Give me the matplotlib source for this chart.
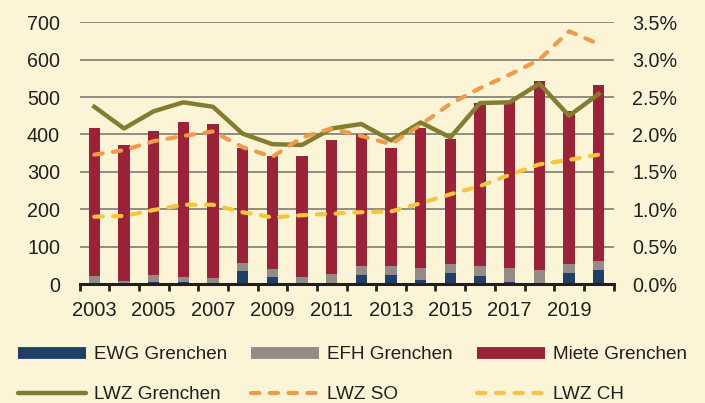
import matplotlib
matplotlib.use('Agg')
import matplotlib.pyplot as plt
from matplotlib.lines import Line2D
import numpy as np

years = list(range(2003, 2021))
ewg = [4, 0, 6, 6, 0, 34, 18, 4, 0, 24, 24, 12, 29, 22, 6, 4, 29, 38]
efh = [18, 8, 19, 13, 17, 22, 22, 14, 26, 24, 24, 30, 25, 26, 36, 33, 25, 23]
miete = [395, 363, 384, 415, 411, 309, 302, 325, 358, 353, 317, 374, 334, 435, 448, 507, 410, 470]
lwz_gr = [2.37, 2.08, 2.31, 2.43, 2.37, 2.01, 1.87, 1.86, 2.08, 2.14, 1.92, 2.16, 1.96, 2.42, 2.43, 2.68, 2.25, 2.54]
lwz_so = [1.73, 1.79, 1.91, 1.98, 2.04, 1.83, 1.70, 1.96, 2.08, 1.98, 1.87, 2.13, 2.41, 2.62, 2.80, 3.00, 3.38, 3.21]
lwz_ch = [0.90, 0.91, 0.99, 1.06, 1.06, 0.96, 0.89, 0.92, 0.94, 0.96, 0.97, 1.08, 1.20, 1.31, 1.46, 1.60, 1.66, 1.73]
left_ticks = [0, 100, 200, 300, 400, 500, 600, 700]
right_ticks = [0.0, 0.5, 1.0, 1.5, 2.0, 2.5, 3.0, 3.5]
labels = ['EWG Grenchen', 'EFH Grenchen', 'Miete Grenchen', 'LWZ Grenchen', 'LWZ SO', 'LWZ CH']

plt.rcParams['font.family'] = ['Liberation Sans', 'DejaVu Sans']

BG = '#FBF4D7'
C_EWG = '#203F68'
C_EFH = '#938B85'
C_MIETE = '#9A2339'
C_GR = '#847D30'
C_SO = '#EE9B4A'
C_CH = '#F7C541'
GRID = '#7F7B70'
AXC = '#231F20'
TXT = '#231F20'

fig = plt.figure(figsize=(7.05, 4.03), dpi=100, facecolor=BG)
ax = fig.add_axes([79.5 / 705, 1 - 284 / 403, (613.5 - 79.5) / 705, (284 - 22.3) / 403])
ax.set_facecolor(BG)

x = np.arange(len(years))
w = 0.39
ewg_a = np.array(ewg)
efh_a = np.array(efh)
ax.bar(x, ewg_a, w, color=C_EWG, zorder=2, linewidth=0)
ax.bar(x, efh_a, w, bottom=ewg_a, color=C_EFH, zorder=2, linewidth=0)
ax.bar(x, miete, w, bottom=ewg_a + efh_a, color=C_MIETE, zorder=2, linewidth=0)

ax.set_xlim(-0.5, len(years) - 0.5)
ax.set_ylim(0, 700)
ax.set_yticks(left_ticks)
for v in left_ticks[1:]:
    ax.axhline(v, color=GRID, lw=1.2, zorder=1)
for s in ['top', 'right', 'left']:
    ax.spines[s].set_visible(False)
ax.spines['bottom'].set_linewidth(2.2)
ax.spines['bottom'].set_color(AXC)
ax.spines['bottom'].set_zorder(5)
ax.tick_params(axis='y', length=0, pad=14, labelsize=14.2, labelcolor=TXT)
ax.set_xticks(x[::2])
ax.set_xticklabels([str(y) for y in years[::2]])
ax.set_xticks(np.arange(-0.5, len(years), 1), minor=True)
ax.tick_params(axis='x', which='major', length=0, pad=12, labelsize=14.5, labelcolor=TXT)
ax.tick_params(axis='x', which='minor', length=5, width=2, color=AXC, direction='out')

ax2 = ax.twinx()
ax2.set_ylim(0, 3.5)
ax2.set_yticks(right_ticks)
ax2.set_yticklabels([f'{v:.1f}%' for v in right_ticks])
for s in ['top', 'right', 'left', 'bottom']:
    ax2.spines[s].set_visible(False)
ax2.tick_params(axis='y', length=0, pad=13.5, labelsize=14.2, labelcolor=TXT)
ax2.patch.set_visible(False)

ax2.plot(x, lwz_gr, color=C_GR, lw=3.2, zorder=3)
ax2.plot(x, lwz_so, color=C_SO, lw=3.0, linestyle=(0, (2.0, 2.5)), dash_capstyle='round', zorder=3)
ax2.plot(x, lwz_ch, color=C_CH, lw=3.0, linestyle=(0, (2.0, 2.5)), dash_capstyle='round', zorder=3)

h_ewg = Line2D([], [], color=C_EWG, lw=8.5, solid_capstyle='butt')
h_efh = Line2D([], [], color=C_EFH, lw=8.5, solid_capstyle='butt')
h_mie = Line2D([], [], color=C_MIETE, lw=8.5, solid_capstyle='butt')
h_gr = Line2D([], [], color=C_GR, lw=3.2, solid_capstyle='round')
h_so = Line2D([], [], color=C_SO, lw=3.0, linestyle=(0, (2.0, 2.5)), dash_capstyle='round')
h_ch = Line2D([], [], color=C_CH, lw=3.0, linestyle=(0, (2.0, 2.5)), dash_capstyle='round')

handles = [h_ewg, h_gr, h_efh, h_so, h_mie, h_ch]
labs = [labels[0], labels[3], labels[1], labels[4], labels[2], labels[5]]
fig.legend(handles, labs, ncol=3, loc='upper left', bbox_to_anchor=(18 / 705, 1 - 346 / 403),
           frameon=False, handlelength=3.6, handletextpad=0.4, columnspacing=1.3,
           labelspacing=1.2, fontsize=13.6, borderpad=0, borderaxespad=0,
           labelcolor=TXT)

fig.savefig('out.png', dpi=100, facecolor=BG)
